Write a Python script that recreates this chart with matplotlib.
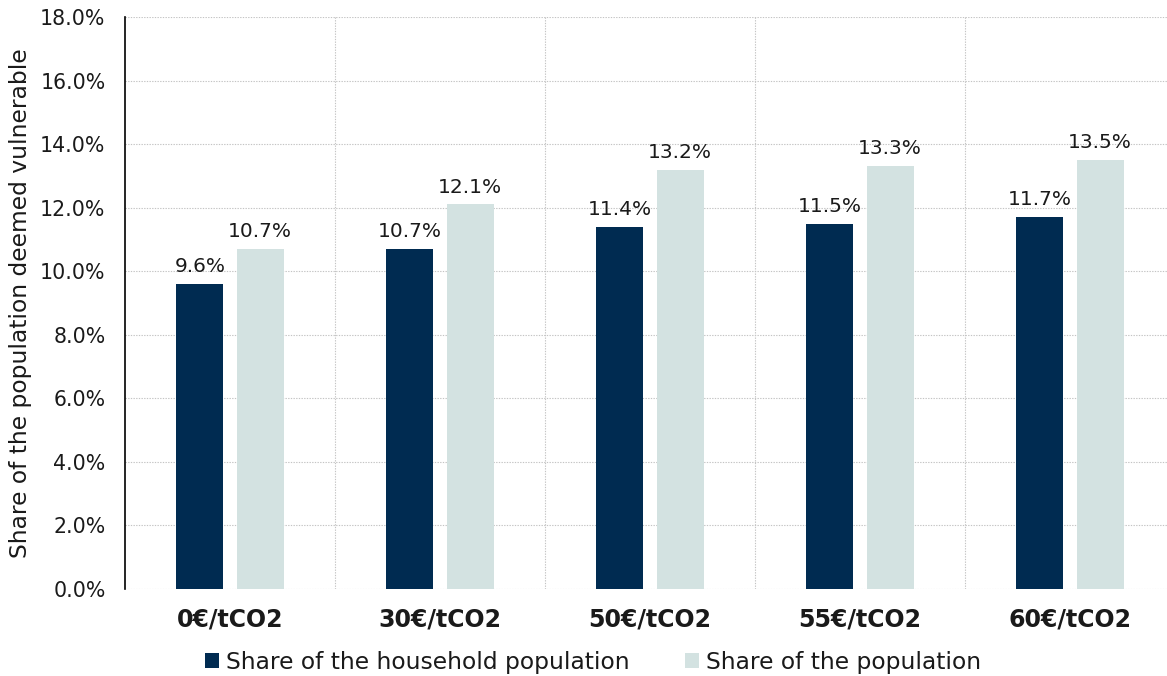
import matplotlib
matplotlib.use('Agg')
import matplotlib.pyplot as plt
import numpy as np

plt.rcParams['font.family'] = ['DejaVu Sans']

prices = ['0€/tCO2', '30€/tCO2', '50€/tCO2', '55€/tCO2', '60€/tCO2']
household_share = [9.6, 10.7, 11.4, 11.5, 11.7]
population_share = [10.7, 12.1, 13.2, 13.3, 13.5]
series_names = ['Share of the household population', 'Share of the population']

navy = '#002B51'
pale = '#D3E2E1'
text_col = '#1a1a1a'
grid_col = '#c4c4c4'


def main():
    fig = plt.figure(figsize=(11.67, 6.76), dpi=100)
    ax = fig.add_axes([125 / 1167, (676 - 589) / 676, 1050 / 1167, 572 / 676])

    x = np.arange(len(prices))
    width = 0.224
    off = 0.143
    b1 = ax.bar(x - off, household_share, width, color=navy, label=series_names[0], zorder=3)
    b2 = ax.bar(x + off, population_share, width, color=pale, label=series_names[1], zorder=3)

    for bars, vals in [(b1, household_share), (b2, population_share)]:
        for rect, v in zip(bars, vals):
            ax.text(rect.get_x() + rect.get_width() / 2, v + 0.25, '%.1f%%' % v,
                    ha='center', va='bottom', fontsize=14.5, color=text_col)

    ax.set_xlim(-0.5, len(prices) - 0.5)
    ax.set_ylim(0, 18)
    ticks = np.arange(0, 18.1, 2)
    ax.set_yticks(ticks)
    ax.set_yticklabels(['%.1f%%' % v for v in ticks], fontsize=14.8, color=text_col)
    ax.set_xticks(x)
    ax.set_xticklabels(prices, fontsize=17, fontweight='bold', color=text_col)
    ax.tick_params(axis='both', length=0)
    ax.tick_params(axis='x', pad=13)
    ax.tick_params(axis='y', pad=14)

    # dotted grid: horizontal at each tick, vertical between categories
    for y in ticks:
        ax.axhline(y, color=grid_col, lw=0.8, ls=(0, (1.2, 1.2)), zorder=1)
    for b in np.arange(0.5, len(prices) - 1, 1):
        ax.axvline(b, color=grid_col, lw=0.8, ls=(0, (1.2, 1.2)), zorder=1)

    for s in ['top', 'right', 'bottom']:
        ax.spines[s].set_visible(False)
    ax.spines['left'].set_color('black')
    ax.spines['left'].set_linewidth(1.2)
    ax.spines['left'].set_zorder(4)

    ax.set_ylabel('Share of the population deemed vulnerable', fontsize=16.8, color=text_col, labelpad=6)

    fig.legend(loc='center', bbox_to_anchor=(593 / 1167, 1 - 662 / 676), ncol=2, frameon=False,
               fontsize=16.8, handlelength=0.6, handleheight=0.6, handletextpad=0.3,
               columnspacing=2.4, labelcolor=text_col)

    fig.savefig('out.png', dpi=100)
    plt.close()


if __name__ == '__main__':
    main()
